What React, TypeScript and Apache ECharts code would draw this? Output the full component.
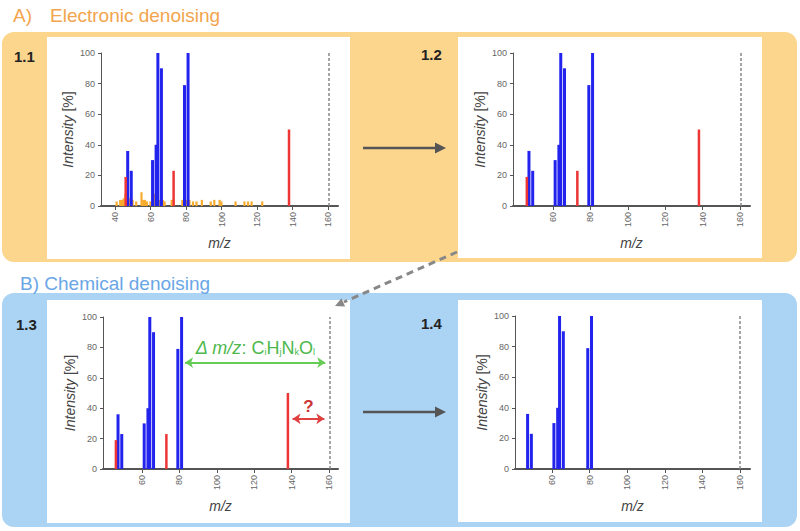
import React, { useEffect, useRef } from "react";
import * as echarts from "echarts";

// ---- data ----
const blueMz = [47, 49, 61, 63, 64, 66, 79, 81];
const blueInt = [36, 23, 30, 40, 100, 90, 79, 100];
const redMz = [46, 73, 138];
const redInt = [19, 23, 50];
const noiseMz = [41, 43, 44, 45, 46, 48, 50, 52, 55, 56, 57, 58, 60, 62, 65, 67, 68, 72, 73, 78, 80, 82, 84, 86, 89, 94, 96, 99, 100, 108, 113, 115, 117, 123];
const noiseInt = [3, 4, 4, 5, 8, 5, 4, 3, 9, 4, 4, 3, 3, 8, 4, 4, 3, 4, 4, 4, 4, 4, 3, 3, 4, 3, 4, 4, 3, 3, 3, 3, 3, 3];
const ticksAll = [40, 60, 80, 100, 120, 140, 160];
const ticksNo40 = [60, 80, 100, 120, 140, 160];
const limitMz = 160;

const FONT = "Liberation Sans, Arial, Helvetica, sans-serif";
const BLUE = "#2323EE";
const RED = "#EE3535";
const ORANGE = "#F7AC2E";

const zip = (a: number[], b: number[]) => a.map((v, i) => [v, b[i]]);

function mkX(gi: number, min: number, max: number, ticks: number[]) {
  return {
    type: "value",
    gridIndex: gi,
    min,
    max,
    name: "m/z",
    nameLocation: "middle",
    nameGap: 30,
    nameTextStyle: { fontStyle: "italic", fontSize: 14, color: "#444", fontFamily: FONT },
    axisLine: { show: true, lineStyle: { color: "#555", width: 2 } },
    axisTick: { show: true, length: 4, customValues: ticks, lineStyle: { color: "#555", width: 1 } },
    axisLabel: { customValues: ticks, rotate: 90, fontSize: 9, color: "#666", margin: 6, fontFamily: FONT },
    splitLine: { show: false },
  };
}
function mkY(gi: number) {
  return {
    type: "value",
    gridIndex: gi,
    min: 0,
    max: 100,
    interval: 20,
    name: "{i|Intensity} [%]",
    nameLocation: "middle",
    nameGap: 26,
    nameRotate: 90,
    nameTextStyle: {
      fontSize: 14,
      color: "#444",
      fontFamily: FONT,
      rich: { i: { fontStyle: "italic", fontSize: 14, color: "#444", fontFamily: FONT } },
    },
    axisLine: { show: true, lineStyle: { color: "#555", width: 1 } },
    axisTick: { show: true, length: 3, lineStyle: { color: "#555" } },
    axisLabel: { fontSize: 9, color: "#666", margin: 6, fontFamily: FONT },
    splitLine: { show: false },
  };
}
function bar(gi: number, data: number[][], color: string, width: number, extra: any = {}) {
  return {
    type: "bar",
    xAxisIndex: gi,
    yAxisIndex: gi,
    data,
    barWidth: width,
    barGap: "-100%",
    itemStyle: { color },
    silent: true,
    ...extra,
  };
}
const dashed = {
  silent: true,
  symbol: ["none", "none"],
  label: { show: false },
  lineStyle: { color: "#888", type: [3, 2], width: 1.5 },
  data: [{ xAxis: limitMz }],
};

function buildOption() {
  const blue = zip(blueMz, blueInt);
  const red = zip(redMz, redInt);
  const noise = zip(noiseMz, noiseInt);
  const txt = (x: number, y: number, text: string, fill: string, size: number, weight = "normal") => ({
    type: "text",
    x,
    y,
    z: 50,
    style: { text, fill, fontSize: size, fontWeight: weight, fontFamily: FONT, verticalAlign: "middle" },
  });
  const rect = (x: number, y: number, w: number, h: number, fill: string, r = 0) => ({
    type: "rect",
    z: 0,
    shape: { x, y, width: w, height: h, r },
    style: { fill },
  });
  return {
    animation: false,
    backgroundColor: "#ffffff",
    textStyle: { fontFamily: FONT },
    graphic: {
      elements: [
        rect(2, 32, 795, 230, "#FCD68D", 12),
        rect(2, 293, 795, 234, "#AAD3F4", 12),
        rect(47, 37, 303, 222, "#ffffff"),
        rect(458, 37, 304, 221, "#ffffff"),
        rect(47, 300, 303, 223, "#ffffff"),
        rect(458, 300, 304, 222, "#ffffff"),
        txt(13, 15, "A)", "#F2A54C", 19),
        txt(50, 15, "Electronic denoising", "#F2A54C", 19),
        txt(20, 283, "B) Chemical denoising", "#6AA6E6", 19),
        txt(14, 56, "1.1", "#222", 15, "bold"),
        txt(421, 54, "1.2", "#222", 15, "bold"),
        txt(16, 324, "1.3", "#222", 15, "bold"),
        txt(421, 323, "1.4", "#222", 15, "bold"),
        { type: "line", z: 50, shape: { x1: 363, y1: 148, x2: 438, y2: 148 }, style: { stroke: "#555", lineWidth: 2.5 } },
        { type: "polygon", z: 50, shape: { points: [[446, 148], [435, 142.5], [435, 153.5]] }, style: { fill: "#555" } },
        { type: "line", z: 50, shape: { x1: 363, y1: 412, x2: 438, y2: 412 }, style: { stroke: "#555", lineWidth: 2.5 } },
        { type: "polygon", z: 50, shape: { points: [[446, 412], [435, 406.5], [435, 417.5]] }, style: { fill: "#555" } },
        { type: "line", z: 50, shape: { x1: 457, y1: 252, x2: 344, y2: 302 }, style: { stroke: "#888", lineWidth: 3, lineDash: [7, 5] } },
        { type: "polygon", z: 50, shape: { points: [[335, 306], [345.1, 306.5], [341.5, 298.3]] }, style: { fill: "#888" } },
      ],
    },
    grid: [
      { left: 101, top: 53, width: 237, height: 153 },
      { left: 513, top: 53, width: 237, height: 153 },
      { left: 103, top: 317, width: 235, height: 152 },
      { left: 515, top: 316, width: 235, height: 153 },
    ],
    xAxis: [
      mkX(0, 32.1, 165.6, ticksAll),
      mkX(1, 38.6, 165.3, ticksNo40),
      mkX(2, 39.1, 164.8, ticksNo40),
      mkX(3, 40.3, 165.3, ticksNo40),
    ],
    yAxis: [mkY(0), mkY(1), mkY(2), mkY(3)],
    series: [
      bar(0, noise, ORANGE, 2.2),
      bar(0, blue, BLUE, 3, { markLine: dashed }),
      bar(0, red, RED, 2.5),
      bar(1, blue, BLUE, 3, { markLine: dashed }),
      bar(1, red, RED, 2.5),
      bar(2, blue, BLUE, 3, { markLine: dashed }),
      bar(2, red, RED, 2.5, {
        markLine: {
          silent: true,
          symbol: ["arrow", "arrow"],
          symbolSize: 8,
          data: [
            [
              {
                coord: [83, 70],
                lineStyle: { color: "#66CC55", width: 1.8, type: "solid" },
                label: {
                  show: true,
                  position: "middle",
                  distance: 6,
                  formatter: "{it|Δ m/z}: C{s|i}H{s|j}N{s|k}O{s|l}",
                  color: "#4DB84D",
                  fontSize: 18,
                  fontFamily: FONT,
                  rich: {
                    it: { fontStyle: "italic", fontSize: 18, color: "#4DB84D", fontFamily: FONT },
                    s: { fontSize: 9, color: "#4DB84D", verticalAlign: "bottom", fontFamily: FONT },
                  },
                },
              },
              { coord: [158, 70] },
            ],
            [
              {
                coord: [140.5, 33],
                lineStyle: { color: "#E04040", width: 2, type: "solid" },
                label: {
                  show: true,
                  position: "middle",
                  distance: 4,
                  formatter: "?",
                  color: "#CC3333",
                  fontSize: 17,
                  fontWeight: "bold",
                  fontFamily: FONT,
                },
              },
              { coord: [157.5, 33] },
            ],
          ],
        },
      }),
      bar(3, blue, BLUE, 3, { markLine: dashed }),
    ],
  };
}

export default function App() {
  const ref = useRef<HTMLDivElement>(null);
  useEffect(() => {
    if (!ref.current) return;
    const chart = echarts.init(ref.current, undefined, { renderer: "svg" });
    chart.setOption(buildOption() as any);
    return () => chart.dispose();
  }, []);
  return (
    <div
      ref={ref}
      style={{ position: "absolute", left: 0, top: 0, width: 800, height: 531, background: "#fff" }}
    />
  );
}
